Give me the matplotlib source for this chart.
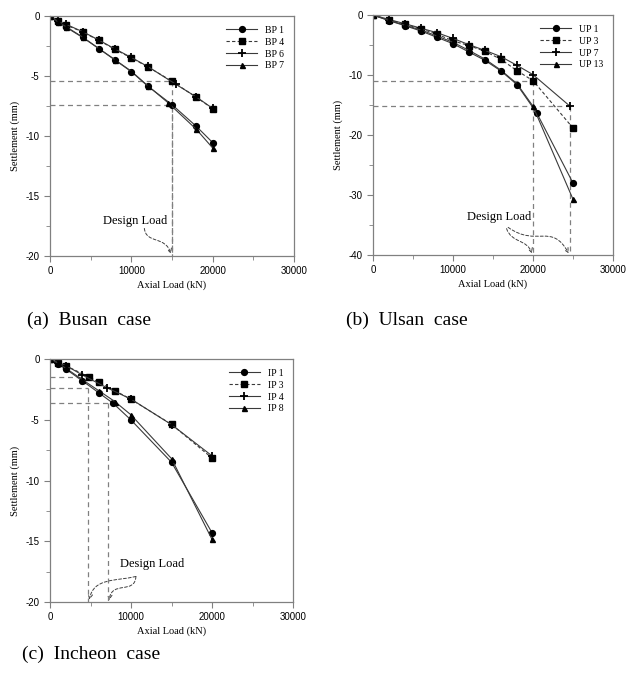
import numpy as np
import matplotlib
matplotlib.use('Agg')
import matplotlib.pyplot as plt
from matplotlib.path import Path
from matplotlib.patches import FancyArrowPatch

# Busan
bp1_load = [0, 1000, 2000, 4000, 6000, 8000, 10000, 12000, 15000, 18000, 20000]
bp1_settle = [0, -0.5, -0.95, -1.78, -2.72, -3.67, -4.64, -5.83, -7.39, -9.2, -10.55]
bp4_load = [0, 1000, 2000, 4000, 6000, 8000, 10000, 12000, 15000, 18000, 20000]
bp4_settle = [0, -0.45, -0.75, -1.33, -2.03, -2.78, -3.5, -4.22, -5.44, -6.78, -7.72]
bp6_load = [0, 1000, 2000, 4000, 6000, 8000, 10000, 12000, 15500, 18000, 20000]
bp6_settle = [0, -0.45, -0.7, -1.3, -2.0, -2.75, -3.45, -4.2, -5.7, -6.75, -7.7]
bp7_load = [0, 1000, 2000, 4000, 6000, 8000, 10000, 12000, 14500, 18000, 20000]
bp7_settle = [0, -0.5, -0.9, -1.75, -2.7, -3.65, -4.6, -5.8, -7.22, -9.45, -11.0]
bp_design = [15000, 15000]
bp_design_settle = [-5.44, -7.39]

# Ulsan
up1_load = [0, 2000, 4000, 6000, 8000, 10000, 12000, 14000, 16000, 18000, 20500, 25000]
up1_settle = [0, -0.94, -1.78, -2.67, -3.72, -4.78, -6.17, -7.56, -9.33, -11.6, -16.4, -28.0]
up3_load = [0, 2000, 4000, 6000, 8000, 10000, 12000, 14000, 16000, 18000, 20000, 25000]
up3_settle = [0, -0.8, -1.55, -2.3, -3.2, -4.3, -5.1, -6.05, -7.39, -9.28, -10.94, -18.83]
up7_load = [0, 2000, 4000, 6000, 8000, 10000, 12000, 14000, 16000, 18000, 20000, 24600]
up7_settle = [0, -0.75, -1.45, -2.2, -2.95, -3.9, -4.95, -5.9, -6.94, -8.39, -9.94, -15.17]
up13_load = [0, 2000, 4000, 6000, 8000, 10000, 12000, 14000, 16000, 18000, 20000, 25000]
up13_settle = [0, -0.9, -1.7, -2.5, -3.5, -4.55, -5.9, -7.35, -9.2, -11.45, -15.2, -30.7]
up_design = [20000, 24600]
up_design_settle = [-10.94, -15.17]

# Incheon
ip1_load = [0, 1000, 2000, 4000, 6000, 7800, 10000, 15000, 20000]
ip1_settle = [0, -0.4, -0.85, -1.8, -2.77, -3.65, -5.02, -8.5, -14.3]
ip3_load = [0, 1000, 2000, 4800, 6000, 8000, 10000, 15000, 20000]
ip3_settle = [0, -0.3, -0.58, -1.46, -1.92, -2.6, -3.32, -5.38, -8.15]
ip4_load = [0, 1000, 2000, 4000, 7000, 10000, 15000, 20000]
ip4_settle = [0, -0.3, -0.55, -1.32, -2.36, -3.3, -5.4, -7.97]
ip8_load = [0, 1000, 2000, 4000, 6000, 8000, 10000, 15000, 20000]
ip8_settle = [0, -0.35, -0.78, -1.7, -2.6, -3.5, -4.6, -8.2, -14.85]
ip_design = [4700, 7200]
ip_design_settle = [-2.36, -3.65]

serif = 'Liberation Serif'
sans = 'Liberation Sans'
line_col = '#3a3a3a'
grid_col = '#808080'

styles = [dict(marker='o', ls='-', ms=4.2),
          dict(marker='s', ls=(0, (3, 2)), ms=4.2),
          dict(marker='+', ls='-', ms=5.5, mew=1.3),
          dict(marker='^', ls='-', ms=3.6)]


def setup_axes(ax, ymin, ystep):
    ax.set_xlim(0, 30000)
    ax.set_ylim(ymin, 0)
    ax.set_xticks([0, 10000, 20000, 30000])
    ax.set_xticks([5000, 15000, 25000], minor=True)
    ax.set_yticks(np.arange(ymin, 0.1, ystep))
    ax.set_yticks(np.arange(ymin + ystep / 2, 0, ystep), minor=True)
    ax.set_yticklabels(['%d' % v for v in np.arange(ymin, 0.1, ystep)])
    for s in ax.spines.values():
        s.set_color(grid_col)
        s.set_linewidth(0.9)
    ax.tick_params(which='both', direction='out', color=grid_col, top=False, right=False)
    ax.tick_params(which='major', length=4, labelsize=7)
    ax.tick_params(which='minor', length=3)
    for lab in ax.get_xticklabels() + ax.get_yticklabels():
        lab.set_family(sans)
    ax.set_xlabel('Axial Load (kN)', family=serif, fontsize=7.5, labelpad=3)
    ax.set_ylabel('Settlement (mm)', family=serif, fontsize=7.5, labelpad=4)


def plot_series(ax, loads, settles, names):
    for x, y, name, st in zip(loads, settles, names, styles):
        ax.plot(x, y, color=line_col, lw=0.8, mfc='black', mec='black', label=name, **st)
    ax.legend(loc='upper right', frameon=False, prop={'family': serif, 'size': 7},
              handlelength=3.2, labelspacing=0.3, borderaxespad=0.6)


def design_lines(ax, loads, settles, ymin, hor_ends=None):
    if hor_ends is None:
        hor_ends = loads
    for x, y, xe in zip(loads, settles, hor_ends):
        ax.plot([0, xe], [y, y], color=grid_col, lw=0.9, ls=(0, (4, 3)))
        ax.plot([x, x], [y, ymin], color=grid_col, lw=0.9, ls=(0, (4, 3)))


def curve_arrow(ax, pts):
    path = Path(pts, [Path.MOVETO, Path.CURVE4, Path.CURVE4, Path.CURVE4])
    ax.add_patch(FancyArrowPatch(path=path, arrowstyle='->,head_length=3,head_width=1.6',
                                 color='#404040', lw=0.7, ls=(0, (3, 2))))


fig = plt.figure(figsize=(6.26, 6.82), dpi=100)

# (a) Busan
ax1 = fig.add_axes([0.0799, 0.6246, 0.3898, 0.3519])
design_lines(ax1, bp_design, bp_design_settle, -20)
plot_series(ax1, [bp1_load, bp4_load, bp6_load, bp7_load],
            [bp1_settle, bp4_settle, bp6_settle, bp7_settle], ['BP 1', 'BP 4', 'BP 6', 'BP 7'])
setup_axes(ax1, -20, 5)
ax1.text(6500, -17.05, 'Design Load', family=serif, fontsize=9, va='center')
curve_arrow(ax1, [(11600, -17.7), (11800, -19.0), (14200, -18.3), (14850, -19.8)])

# (b) Ulsan
ax2 = fig.add_axes([0.5958, 0.6261, 0.3834, 0.3519])
design_lines(ax2, up_design, up_design_settle, -40)
plot_series(ax2, [up1_load, up3_load, up7_load, up13_load],
            [up1_settle, up3_settle, up7_settle, up13_settle], ['UP 1', 'UP 3', 'UP 7', 'UP 13'])
setup_axes(ax2, -40, 10)
ax2.text(11750, -33.7, 'Design Load', family=serif, fontsize=9, va='center')
curve_arrow(ax2, [(16700, -35.6), (17300, -38.0), (19300, -37.4), (19850, -39.7)])
curve_arrow(ax2, [(16900, -35.4), (20500, -38.8), (22300, -34.5), (24450, -39.7)])

# (c) Incheon
ax3 = fig.add_axes([0.0799, 0.1173, 0.3882, 0.3563])
ax3.plot([0, 4300], [-1.46, -1.46], color=grid_col, lw=0.9, ls=(0, (4, 3)))
design_lines(ax3, ip_design, ip_design_settle, -20)
plot_series(ax3, [ip1_load, ip3_load, ip4_load, ip8_load],
            [ip1_settle, ip3_settle, ip4_settle, ip8_settle], ['IP 1', 'IP 3', 'IP 4', 'IP 8'])
setup_axes(ax3, -20, 5)
ax3.text(8700, -16.9, 'Design Load', family=serif, fontsize=9, va='center')
curve_arrow(ax3, [(10600, -17.9), (8000, -18.3), (5400, -18.0), (4850, -19.8)])
curve_arrow(ax3, [(10600, -17.9), (10500, -19.4), (7600, -18.2), (7300, -19.85)])

fig.text(0.043, 0.531, '(a)  Busan  case', family=serif, fontsize=14, va='center')
fig.text(0.552, 0.531, '(b)  Ulsan  case', family=serif, fontsize=14, va='center')
fig.text(0.035, 0.04, '(c)  Incheon  case', family=serif, fontsize=14, va='center')

fig.savefig('out.png', dpi=100)
